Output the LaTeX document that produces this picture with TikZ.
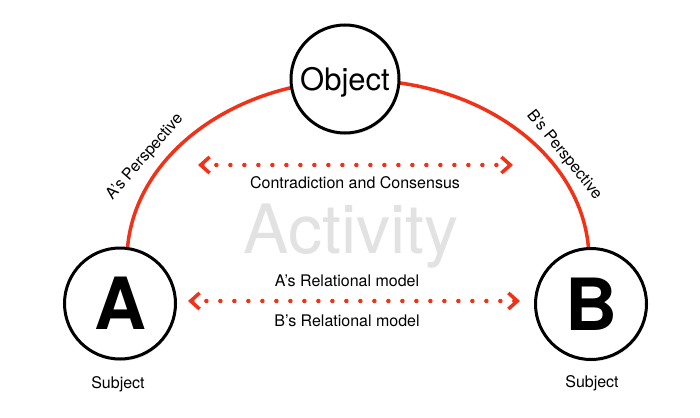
\documentclass[tikz,border=0pt]{standalone}
\usepackage{fontspec}
\setmainfont{TeX Gyre Heros}
\usetikzlibrary{arrows.meta,shadows,backgrounds}
\definecolor{arcred}{RGB}{240,50,25}
\definecolor{actgray}{RGB}{226,226,226}
\begin{document}
\begin{tikzpicture}[x=1pt,y=-1pt,
  circ/.style={circle, draw=black, line width=3pt, fill=white, minimum size=111pt, inner sep=0pt, text depth=0pt,
    drop shadow={opacity=0.2, shadow xshift=1pt, shadow yshift=-2pt}},
  lbl/.style={font=\fontsize{16}{19}\selectfont, inner sep=0pt},
  arcline/.style={draw=arcred, line width=3.5pt},
  dotarrow/.style={draw=arcred, line width=4.5pt, line cap=round, dash pattern=on 0pt off 14pt,
    {Straight Barb[length=9pt,width=16pt,line width=3.5pt]}-{Straight Barb[length=9pt,width=16pt,line width=3.5pt]}}
]
\useasboundingbox (0,0) rectangle (700,417);

\node[circ, minimum size=108pt, font=\fontsize{31}{31}\selectfont] (obj) at (345,79) {Object};
\node[circ, font=\bfseries\fontsize{72}{72}\selectfont] (A) at (120,303.5) {A};
\node[circ, font=\bfseries\fontsize{72}{72}\selectfont] (B) at (591,304) {B};

\node[lbl] (subA) at (118,384) {Subject};
\node[lbl] (subB) at (592,383) {Subject};

\begin{pgfonlayer}{background}
  \fill[white] (0,0) rectangle (700,417);
  \coordinate (ec) at (358,260);
  \draw[arcline] (ec) ++(-231,0) arc[start angle=180, end angle=0, x radius=231pt, y radius=180pt];
\end{pgfonlayer}

\node[lbl, rotate=49] (pa) at (145,157) {A’s Perspective};
\node[lbl, rotate=-51] (pb) at (564,155) {B’s Perspective};

\coordinate (t1) at (198,165);
\coordinate (t2) at (513,165);
\draw[dotarrow] (t1) -- (t2);
\node[lbl] (cc) at (355,183) {Contradiction and Consensus};

\node[font=\fontsize{68}{68}\selectfont, text=actgray, inner sep=0pt, text depth=0pt] (act) at (351,229) {Activity};

\coordinate (m1) at (188,301);
\coordinate (m2) at (520,301);
\draw[dotarrow] (m1) -- (m2);
\node[lbl] (ra) at (347,281) {A’s Relational model};
\node[lbl] (rb) at (347,321) {B’s Relational model};
\end{tikzpicture}
\end{document}
